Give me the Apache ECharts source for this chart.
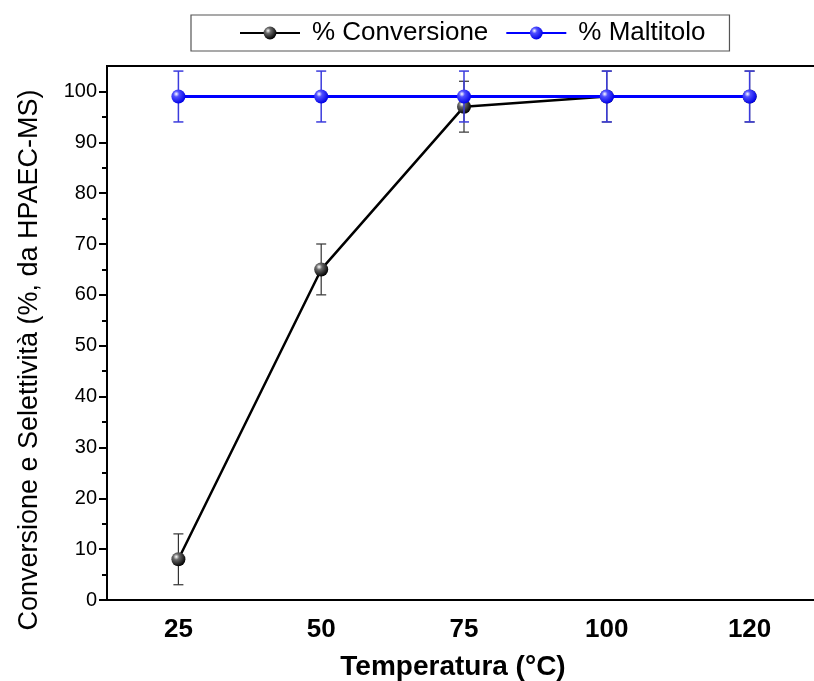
<!DOCTYPE html>
<html>
<head>
<meta charset="utf-8">
<title>Conversione e Selettività</title>
<script src="https://cdn.jsdelivr.net/npm/echarts@6/dist/echarts.min.js"></script>
<style>
  html, body { margin: 0; padding: 0; background: #fff; }
  #chart { width: 814px; height: 681px; }
</style>
</head>
<body>
<div id="chart"></div>
<script>
// Reaction temperature (°C)
const temperature = ['25', '50', '75', '100', '120'];

// % conversion with its error
const conversione = [8, 65, 97, 99, 99];
const conversioneErr = [5, 5, 5, 5, 5];

// % maltitol selectivity with its error
const maltitolo = [99, 99, 99, 99, 99];
const maltitoloErr = [5, 5, 5, 5, 5];

// y-axis ticks
const yTicks = [0, 10, 20, 30, 40, 50, 60, 70, 80, 90, 100];
const yMinorTicks = [5, 15, 25, 35, 45, 55, 65, 75, 85, 95];

const FONT = 'Liberation Sans, Arial, sans-serif';

function sphere(base, mid) {
  return {
    type: 'radial', x: 0.35, y: 0.32, r: 0.7,
    colorStops: [
      { offset: 0, color: '#ffffff' },
      { offset: 0.3, color: mid },
      { offset: 1, color: base }
    ]
  };
}

function errorItems(values, errs) {
  return values.map((v, i) => [i, v - errs[i], v + errs[i]]);
}

function errorBar(color, width) {
  return function (params, api) {
    const lo = api.coord([api.value(0), api.value(1)]);
    const hi = api.coord([api.value(0), api.value(2)]);
    const half = 5;
    const style = { stroke: color, lineWidth: width, fill: null };
    return {
      type: 'group',
      children: [
        { type: 'line', shape: { x1: lo[0], y1: lo[1], x2: hi[0], y2: hi[1] }, style },
        { type: 'line', shape: { x1: lo[0] - half, y1: lo[1], x2: lo[0] + half, y2: lo[1] }, style },
        { type: 'line', shape: { x1: hi[0] - half, y1: hi[1], x2: hi[0] + half, y2: hi[1] }, style }
      ]
    };
  };
}

const chart = echarts.init(document.getElementById('chart'), null, { renderer: 'canvas' });

chart.setOption({
  animation: false,
  backgroundColor: '#ffffff',
  textStyle: { fontFamily: FONT },
  grid: {
    left: 107, top: 66, bottom: 81, width: 714,
    outerBoundsMode: 'none', containLabel: false,
    show: true, borderColor: '#000', borderWidth: 2, backgroundColor: 'transparent'
  },
  legend: {
    data: ['% Conversione', '% Maltitolo'],
    left: 191, top: 15,
    padding: [5, 24, 5, 48],
    itemWidth: 60, itemHeight: 16, itemGap: 17,
    borderColor: '#555', borderWidth: 1.2,
    textStyle: { fontSize: 26, color: '#000', fontFamily: FONT, padding: [0, 0, 0, 7] }
  },
  xAxis: [
    {
      type: 'category', data: temperature, position: 'bottom', boundaryGap: true,
      name: 'Temperatura (°C)', nameLocation: 'middle', nameGap: 53,
      nameTextStyle: { fontSize: 28, fontWeight: 'bold', color: '#000', fontFamily: FONT, padding: [0, 22, 0, 0] },
      axisLine: { lineStyle: { color: '#000', width: 2 } },
      axisTick: { alignWithLabel: true, length: 10, lineStyle: { color: '#000', width: 2 } },
      axisLabel: { fontSize: 26, fontWeight: 'bold', color: '#000', margin: 17, fontFamily: FONT },
      splitLine: { show: false }
    },
    {
      // minor ticks between temperatures
      type: 'category', data: temperature, position: 'bottom', boundaryGap: true,
      axisLine: { show: false },
      axisTick: { length: 5, lineStyle: { color: '#000', width: 2 } },
      axisLabel: { show: false },
      splitLine: { show: false }
    }
  ],
  yAxis: [
    {
      type: 'value', min: 0, max: 105, interval: 10, position: 'left',
      name: 'Conversione e Selettività (%, da HPAEC-MS)', nameLocation: 'middle', nameGap: 64,
      nameTextStyle: { fontSize: 27, color: '#000', fontFamily: FONT, padding: [0, 54, 0, 0] },
      axisLine: { show: true, lineStyle: { color: '#000', width: 2 } },
      axisTick: { show: true, length: 8, customValues: yTicks, lineStyle: { color: '#000', width: 2 } },
      axisLabel: { fontSize: 20, color: '#000', margin: 10, customValues: yTicks, fontFamily: FONT },
      splitLine: { show: false }
    },
    {
      // minor ticks between labelled values
      type: 'value', min: 0, max: 105, interval: 10, position: 'left',
      axisLine: { show: false },
      axisTick: { show: true, length: 5, customValues: yMinorTicks, lineStyle: { color: '#000', width: 2 } },
      axisLabel: { show: false },
      splitLine: { show: false }
    }
  ],
  series: [
    {
      name: '% Conversione', type: 'line', data: conversione,
      symbol: 'circle', symbolSize: 14,
      lineStyle: { color: '#000', width: 2.5 },
      itemStyle: { color: sphere('#000000', '#6a6a6a'), borderWidth: 0 },
      z: 3
    },
    {
      name: 'err-conv', type: 'custom', data: errorItems(conversione, conversioneErr),
      renderItem: errorBar('#333', 1.2), z: 2, silent: true
    },
    {
      name: '% Maltitolo', type: 'line', data: maltitolo,
      symbol: 'circle', symbolSize: 14,
      lineStyle: { color: '#0000ff', width: 3 },
      itemStyle: { color: sphere('#0000e6', '#5050ff'), borderWidth: 0 },
      z: 5
    },
    {
      name: 'err-malt', type: 'custom', data: errorItems(maltitolo, maltitoloErr),
      renderItem: errorBar('#3b3bdd', 1.5), z: 4, silent: true
    }
  ]
});
</script>
</body>
</html>
